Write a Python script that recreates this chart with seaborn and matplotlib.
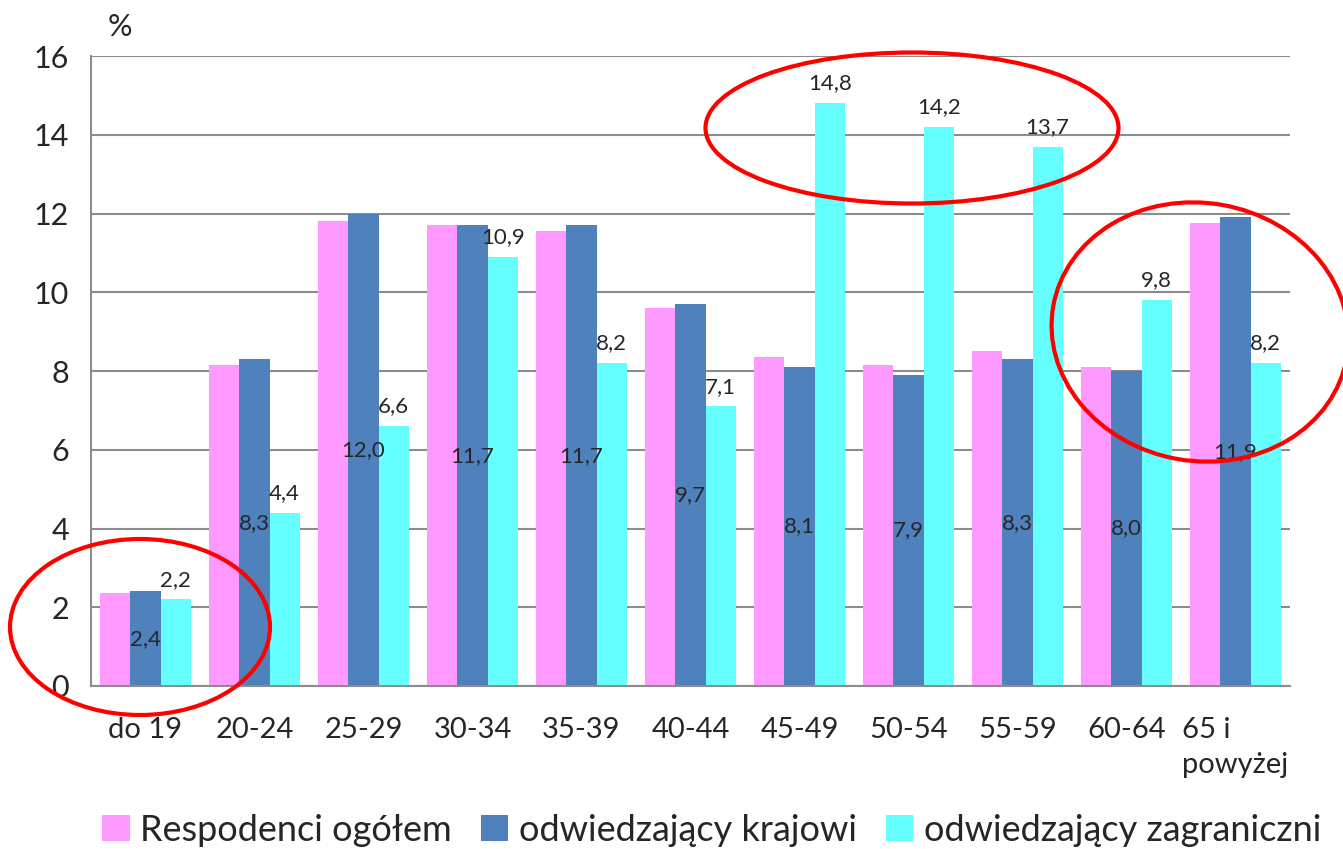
"""
Struktura wieku respondentów - wykres słupkowy.
"""
import pandas as pd
import seaborn as sns
import matplotlib.pyplot as plt
from matplotlib.patches import Ellipse, Patch

grupy = ["do 19", "20-24", "25-29", "30-34", "35-39", "40-44",
         "45-49", "50-54", "55-59", "60-64", "65 i\npowyżej"]
ogolem = [2.35, 8.15, 11.8, 11.7, 11.55, 9.6, 8.35, 8.15, 8.5, 8.1, 11.75]
krajowi = [2.4, 8.3, 12.0, 11.7, 11.7, 9.7, 8.1, 7.9, 8.3, 8.0, 11.9]
zagraniczni = [2.2, 4.4, 6.6, 10.9, 8.2, 7.1, 14.8, 14.2, 13.7, 9.8, 8.2]
serie = ["Respodenci ogółem", "odwiedzający krajowi", "odwiedzający zagraniczni"]
kolory = ["#FF99FF", "#4F81BD", "#66FFFF"]

tabela = pd.DataFrame({
    "grupa": grupy * 3,
    "seria": [serie[0]] * 11 + [serie[1]] * 11 + [serie[2]] * 11,
    "wartosc": ogolem + krajowi + zagraniczni,
})

sns.set_style("white")
plt.rcParams["font.family"] = ["Lato", "DejaVu Sans"]

fig = plt.figure(figsize=(13.43, 8.49), dpi=100)
ax = fig.add_axes([0.0678, 0.192, 0.8927, 0.742])

sns.barplot(data=tabela, x="grupa", y="wartosc", hue="seria", palette=kolory,
            width=0.83, gap=0, linewidth=0, saturation=1, ax=ax, legend=False)

fmt = lambda v: f"{v:.1f}".replace(".", ",")
ax.bar_label(ax.containers[1], labels=[fmt(v) for v in krajowi],
             label_type="center", fontsize=16)
ax.bar_label(ax.containers[2], labels=[fmt(v) for v in zagraniczni],
             label_type="edge", padding=7, fontsize=16)

ax.set_ylim(0, 16)
ax.set_xlim(-0.5, 10.5)
ax.set_yticks(range(0, 17, 2))
ax.yaxis.grid(True, color="#8C8C8C", linewidth=1.5)
ax.set_axisbelow(True)
ax.set_xlabel("")
ax.set_ylabel("")
for s in ["top", "right"]:
    ax.spines[s].set_visible(False)
for s in ["left", "bottom"]:
    ax.spines[s].set_color("#8C8C8C")
    ax.spines[s].set_linewidth(1.5)

# kreski osi X na granicach kategorii
ax.set_xticks([i - 0.5 for i in range(12)], minor=True)
ax.tick_params(axis="x", which="minor", length=10, width=1.5, color="#8C8C8C")
ax.tick_params(axis="x", which="major", length=0, labelsize=21, pad=22)
ax.tick_params(axis="y", length=10, width=1.5, color="#8C8C8C", labelsize=22, pad=6)
for t in ax.get_xticklabels():
    t.set_multialignment("left")
    t.set_linespacing(1.45)

fig.text(0.080, 0.968, "%", fontsize=22, ha="left", va="center")

uchwyty = [Patch(facecolor=k, edgecolor="none") for k in kolory]
fig.legend(uchwyty, serie, loc="center", bbox_to_anchor=(0.53, 0.022), ncol=3,
           frameon=False, fontsize=26, handlelength=0.75, handleheight=0.75,
           handletextpad=0.3, columnspacing=0.8, borderaxespad=0)

# czerwone elipsy wyróżniające
nakladka = fig.add_axes([0, 0, 1, 1])
nakladka.set_xlim(0, 1343)
nakladka.set_ylim(849, 0)
nakladka.axis("off")
for (cx, cy, w, h, kat) in [(140, 627, 260, 176, 0),
                             (912, 128, 413, 151, 0),
                             (1200, 332, 298, 258, 10)]:
    nakladka.add_patch(Ellipse((cx, cy), w, h, angle=kat, fill=False,
                               edgecolor="#FF0000", linewidth=3))

plt.savefig("out.png", dpi=100)
